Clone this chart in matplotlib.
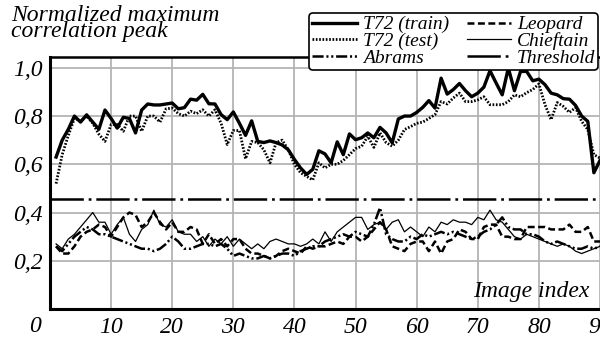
import matplotlib
matplotlib.use("Agg")
import matplotlib.pyplot as plt
from matplotlib.transforms import ScaledTranslation

plt.rcParams["font.family"] = ["Liberation Serif", "DejaVu Serif"]
plt.rcParams["font.style"] = "italic"
plt.rcParams["lines.scale_dashes"] = False

image_index = list(range(1, 91))

t72_train = [
    0.63, 0.70, 0.745, 0.80, 0.775, 0.805, 0.775, 0.745, 0.825, 0.79,
    0.75, 0.795, 0.79, 0.73, 0.825, 0.85, 0.846, 0.846, 0.85, 0.854,
    0.83, 0.835, 0.87, 0.866, 0.89, 0.851, 0.85, 0.806, 0.785, 0.817,
    0.77, 0.72, 0.78, 0.695, 0.69, 0.697, 0.69, 0.68, 0.66, 0.62,
    0.585, 0.558, 0.579, 0.656, 0.643, 0.606, 0.693, 0.64, 0.726, 0.702,
    0.71, 0.73, 0.71, 0.753, 0.73, 0.689, 0.788, 0.80, 0.80, 0.815,
    0.836, 0.864, 0.833, 0.957, 0.891, 0.91, 0.935, 0.905, 0.88, 0.895,
    0.92, 0.988, 0.937, 0.888, 0.999, 0.905, 0.985, 0.985, 0.946, 0.953,
    0.93, 0.895, 0.888, 0.872, 0.87, 0.844, 0.80, 0.778, 0.565, 0.616,
]
t72_test = [
    0.52, 0.64, 0.72, 0.79, 0.78, 0.80, 0.77, 0.725, 0.695, 0.765,
    0.765, 0.737, 0.80, 0.80, 0.737, 0.80, 0.80, 0.775, 0.83, 0.833,
    0.81, 0.80, 0.82, 0.81, 0.826, 0.80, 0.826, 0.77, 0.682, 0.74,
    0.74, 0.623, 0.695, 0.69, 0.66, 0.606, 0.69, 0.70, 0.66, 0.60,
    0.565, 0.55, 0.535, 0.606, 0.585, 0.60, 0.60, 0.616, 0.64, 0.665,
    0.675, 0.716, 0.67, 0.73, 0.69, 0.675, 0.70, 0.744, 0.756, 0.77,
    0.775, 0.79, 0.806, 0.86, 0.85, 0.875, 0.895, 0.86, 0.86, 0.867,
    0.88, 0.847, 0.847, 0.847, 0.86, 0.888, 0.88, 0.897, 0.91, 0.933,
    0.847, 0.785, 0.856, 0.84, 0.815, 0.835, 0.778, 0.744, 0.64, 0.626,
]
abrams = [
    0.26, 0.24, 0.27, 0.30, 0.32, 0.34, 0.33, 0.31, 0.31, 0.30,
    0.29, 0.28, 0.27, 0.26, 0.25, 0.25, 0.24, 0.25, 0.27, 0.30,
    0.28, 0.25, 0.25, 0.26, 0.27, 0.27, 0.26, 0.27, 0.25, 0.22,
    0.23, 0.22, 0.21, 0.21, 0.22, 0.21, 0.22, 0.23, 0.23, 0.22,
    0.24, 0.25, 0.26, 0.26, 0.28, 0.29, 0.30, 0.31, 0.30, 0.32,
    0.31, 0.30, 0.35, 0.42, 0.31, 0.29, 0.28, 0.28, 0.30, 0.29,
    0.31, 0.30, 0.31, 0.32, 0.31, 0.32, 0.31, 0.30, 0.29, 0.30,
    0.32, 0.33, 0.35, 0.38, 0.34, 0.33, 0.33, 0.31, 0.31, 0.30,
    0.28, 0.27, 0.28, 0.27, 0.26, 0.25, 0.25, 0.26, 0.25, 0.26,
]
leopard = [
    0.26, 0.23, 0.23, 0.26, 0.30, 0.32, 0.33, 0.35, 0.34, 0.30,
    0.34, 0.38, 0.40, 0.39, 0.34, 0.36, 0.40, 0.36, 0.33, 0.36,
    0.32, 0.32, 0.34, 0.33, 0.27, 0.31, 0.27, 0.29, 0.26, 0.29,
    0.29, 0.25, 0.23, 0.23, 0.22, 0.21, 0.22, 0.24, 0.25, 0.24,
    0.23, 0.26, 0.25, 0.26, 0.26, 0.27, 0.28, 0.27, 0.30, 0.30,
    0.28, 0.30, 0.33, 0.36, 0.33, 0.26, 0.25, 0.24, 0.27, 0.28,
    0.28, 0.24, 0.28, 0.23, 0.28, 0.29, 0.33, 0.32, 0.29, 0.29,
    0.34, 0.35, 0.35, 0.30, 0.30, 0.29, 0.29, 0.34, 0.34, 0.34,
    0.34, 0.33, 0.33, 0.33, 0.35, 0.32, 0.32, 0.34, 0.28, 0.28,
]
chieftain = [
    0.27, 0.25, 0.29, 0.31, 0.34, 0.37, 0.40, 0.36, 0.36, 0.31,
    0.35, 0.38, 0.31, 0.28, 0.33, 0.35, 0.41, 0.35, 0.34, 0.37,
    0.32, 0.31, 0.31, 0.28, 0.30, 0.26, 0.29, 0.27, 0.30, 0.26,
    0.29, 0.27, 0.25, 0.27, 0.25, 0.28, 0.29, 0.28, 0.27, 0.27,
    0.26, 0.27, 0.29, 0.27, 0.32, 0.28, 0.32, 0.34, 0.36, 0.38,
    0.38, 0.33, 0.35, 0.36, 0.33, 0.36, 0.37, 0.32, 0.34, 0.32,
    0.30, 0.34, 0.32, 0.36, 0.35, 0.37, 0.36, 0.36, 0.35, 0.38,
    0.37, 0.41, 0.37, 0.36, 0.33, 0.30, 0.29, 0.31, 0.30, 0.29,
    0.28, 0.27, 0.26, 0.27, 0.26, 0.24, 0.23, 0.24, 0.25, 0.26,
]
threshold = 0.455

x_ticks = [10, 20, 30, 40, 50, 60, 70, 80, 90]
y_ticks = [0.2, 0.4, 0.6, 0.8, 1.0]
y_tick_labels = ["0,2", "0,4", "0,6", "0,8", "1,0"]

fig = plt.figure(figsize=(6.0, 3.37), dpi=100)
ax = fig.add_axes([0.0833, 0.083, 0.9167, 0.748])

ax.plot(image_index, t72_train, color="black", lw=2.4, label="T72 (train)")
ax.plot(image_index, t72_test, color="black", lw=2.0, dashes=(1.2, 1.2),
        label="T72 (test)")
ax.plot(image_index, abrams, color="black", lw=1.8,
        dashes=(8, 2, 1.5, 2, 1.5, 2), label="Abrams")
ax.plot(image_index, leopard, color="black", lw=1.8, dashes=(5, 2.5),
        label="Leopard")
ax.plot(image_index, chieftain, color="black", lw=0.9, label="Chieftain")
ax.axhline(threshold, color="black", lw=1.8, dashes=(24, 3.5, 2, 3.5),
           label="Threshold")

ax.set_xlim(0, 90)
ax.set_ylim(0, 1.045)
ax.set_xticks(x_ticks)
ax.set_yticks(y_ticks)
ax.set_yticklabels(y_tick_labels)
ax.tick_params(length=0, labelsize=17, pad=5)
ax.tick_params(axis="x", pad=6)
ax.grid(True, color="#b4b4b4", lw=1.3)
ax.set_axisbelow(True)
for side in ["left", "bottom"]:
    ax.spines[side].set_linewidth(2.2)
ax.spines["top"].set_linewidth(1.8)
ax.spines["right"].set_visible(False)

# the origin label sits a little left of the corner
ax.text(0, 0, "0", fontsize=17, ha="center", va="top",
        transform=ax.transData + ScaledTranslation(-0.15, -0.07, fig.dpi_scale_trans),
        clip_on=False)

ax.text(0.98, 0.07, "Image index", transform=ax.transAxes, ha="right",
        va="center", fontsize=17)
fig.text(0.018, 0.985, "Normalized maximum\ncorrelation peak", ha="left",
         va="top", fontsize=17, linespacing=0.7)

leg = ax.legend(ncol=2, loc="upper right", bbox_to_anchor=(0.997, 1.175),
                fontsize=14, frameon=True, fancybox=True, handlelength=2.3,
                handletextpad=0.3, columnspacing=0.9, labelspacing=-0.05,
                borderpad=0.15, borderaxespad=0)
leg.get_frame().set_edgecolor("black")
leg.get_frame().set_linewidth(1.2)
leg.get_frame().set_alpha(1)

fig.savefig("out.png", dpi=100)
